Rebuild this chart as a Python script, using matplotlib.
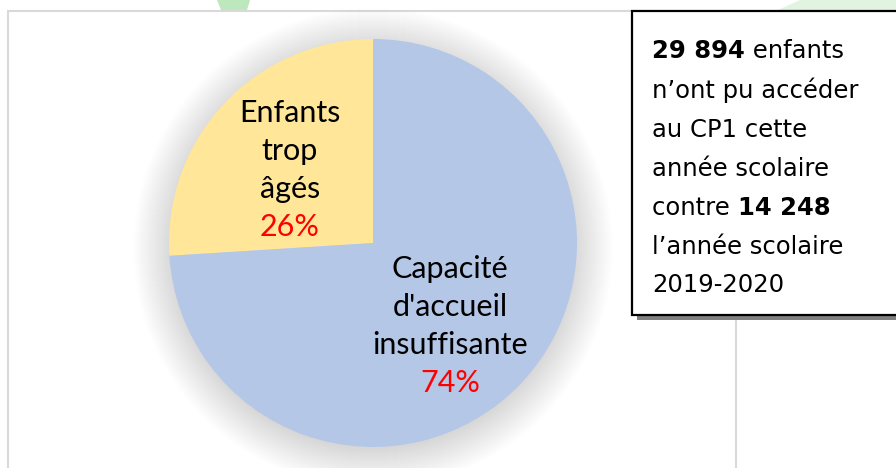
import matplotlib.pyplot as plt
from matplotlib.patches import Rectangle, Circle, Polygon

# data
categories = ["Enfants\ntrop\nâgés", "Capacité\nd'accueil\ninsuffisante"]
shares = [26, 74]
colors = ["#FFE699", "#B4C7E7"]

W, H = 896, 468

fig = plt.figure(figsize=(W / 100, H / 100), dpi=100)
ax = fig.add_axes([0, 0, 1, 1])

def Y(y):
  # pixel rows counted from the top
  return H - y

cx, cy, r = 373, 243, 204

# soft shadow around the pie
for k in range(40):
  ax.add_patch(Circle((cx, Y(cy + 5)), r + 36 - k, color="#000000",
                      alpha=0.0035, lw=0, zorder=1))

wedges, _ = ax.pie(shares, colors=colors, startangle=90, counterclock=True,
                   center=(cx, Y(cy)), radius=r, frame=True,
                   wedgeprops=dict(linewidth=0))
for w in wedges:
  w.set_zorder(2)

# slice labels, one text per line
lab_font = "Lato"
lab_fs = 22

def slice_label(x, y0, label, share):
  rows = label.split("\n")
  for i, s in enumerate(rows):
    ax.text(x, Y(y0 + 38 * i), s, ha="center", va="baseline",
            fontsize=lab_fs, family=lab_font, zorder=5)
  ax.text(x, Y(y0 + 38 * len(rows)), "%d%%" % share, ha="center",
          va="baseline", fontsize=lab_fs, family=lab_font, color="red",
          zorder=5)

slice_label(290, 122, categories[0], shares[0])
slice_label(450, 278, categories[1], shares[1])

# chart frame
ax.add_patch(Rectangle((8, Y(470)), 736 - 8, 470 - 11, fill=False,
                       edgecolor="#d9d9d9", lw=1.5, zorder=0))

# green marks at the top edge
ax.add_patch(Polygon([(217, Y(0)), (250, Y(0)), (247, Y(10)), (221, Y(10))],
                     closed=True, color="#bde8bd", lw=0, zorder=0))
ax.add_patch(Polygon([(778, Y(10)), (800, Y(0)), (896, Y(0)), (896, Y(10))],
                     closed=True, color="#e0f4e0", lw=0, zorder=0))

# note box with shadow
ax.add_patch(Rectangle((637, Y(320)), 300, 305, color="#808080", lw=0,
                       zorder=6))
ax.add_patch(Rectangle((632, Y(315)), 300, 304, facecolor="white",
                       edgecolor="black", lw=1.6, zorder=7))

note_font = "DejaVu Sans"
tx = 652
fs = 17.5
t = ax.text(tx, Y(58), "29 894", fontsize=fs, fontweight="bold",
            family=note_font, va="baseline", zorder=8)
ax.annotate(" enfants", xy=(1, 0), xycoords=t, va="bottom", fontsize=fs,
            family=note_font, zorder=8)
lines = ["n’ont pu accéder", "au CP1 cette", "année scolaire"]
for i, s in enumerate(lines):
  ax.text(tx, Y(98 + 39 * i), s, fontsize=fs, family=note_font,
          va="baseline", zorder=8)
t = ax.text(tx, Y(215), "contre ", fontsize=fs, family=note_font,
            va="baseline", zorder=8)
ax.annotate("14 248", xy=(1, 0), xycoords=t, va="bottom", fontsize=fs,
            fontweight="bold", family=note_font, zorder=8)
ax.text(tx, Y(254), "l’année scolaire", fontsize=fs, family=note_font,
        va="baseline", zorder=8)
ax.text(tx, Y(292), "2019-2020", fontsize=fs, family=note_font,
        va="baseline", zorder=8)

ax.set_xlim(0, W)
ax.set_ylim(0, H)
ax.set_aspect("equal")
ax.axis("off")

fig.savefig("out.png", dpi=100)
